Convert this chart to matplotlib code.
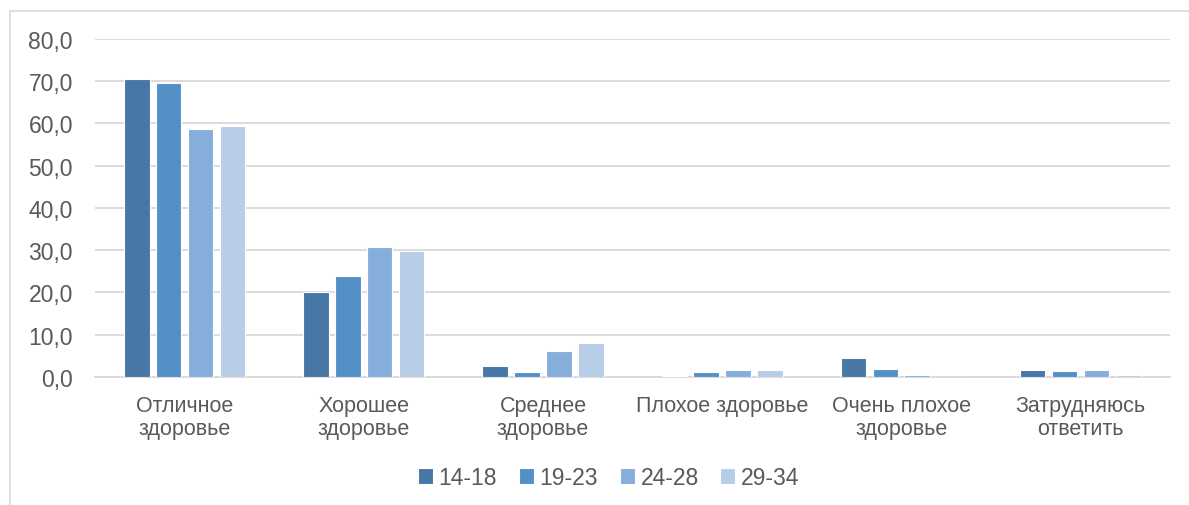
import numpy as np
import matplotlib.pyplot as plt
from matplotlib.patches import Rectangle

plt.rcParams['font.family'] = ['Liberation Sans', 'DejaVu Sans']

categories = ['Отличное\nздоровье', 'Хорошее\nздоровье', 'Среднее\nздоровье',
              'Плохое здоровье', 'Очень плохое\nздоровье', 'Затрудняюсь\nответить']
groups = ['14-18', '19-23', '24-28', '29-34']
v_14_18 = [70.6, 20.2, 2.5, 0.2, 4.5, 1.7]
v_19_23 = [69.6, 23.9, 1.2, 1.2, 1.8, 1.5]
v_24_28 = [58.8, 30.8, 6.1, 1.7, 0.5, 1.6]
v_29_34 = [59.4, 29.8, 8.0, 1.7, 0.0, 0.5]
series = [v_14_18, v_19_23, v_24_28, v_29_34]
colors = ['#4677A6', '#5390C8', '#86AEDC', '#B8CDE8']

fig = plt.figure(figsize=(11.89, 5.06), dpi=100)
ax = fig.add_axes([0.080, 0.253, 0.904, 0.668])

x = np.arange(len(categories))
step = 0.178
width = 0.142
for i, (vals, c, g) in enumerate(zip(series, colors, groups)):
    ax.bar(x + (i - 1.5) * step, vals, width, color=c, label=g,
           edgecolor='white', linewidth=0.8, zorder=3)

ax.set_xlim(-0.5, len(categories) - 0.5)
ax.set_ylim(0, 80)
ax.set_yticks(np.arange(0, 81, 10))
ax.set_yticklabels([f'{t:.1f}'.replace('.', ',') for t in np.arange(0, 81, 10)])
ax.yaxis.grid(True, color='#D9D9D9', linewidth=1.3, zorder=0)
ax.set_xticks(x)
ax.set_xticklabels(categories, linespacing=1.15)
ax.tick_params(axis='y', length=0, labelsize=16.5, colors='#595959', pad=16)
ax.tick_params(axis='x', length=0, labelsize=15.5, colors='#595959', pad=13)
for s in ['top', 'right', 'left']:
    ax.spines[s].set_visible(False)
ax.spines['bottom'].set_color('#D9D9D9')
ax.spines['bottom'].set_linewidth(1.3)

leg = fig.legend(loc='center', bbox_to_anchor=(0.512, 0.054), ncol=4,
                 frameon=False, fontsize=16.5, handlelength=0.65, handleheight=0.65,
                 handletextpad=0.25, columnspacing=0.95)
for t in leg.get_texts():
    t.set_color('#595959')

# outer chart border
fig.patches.append(Rectangle((0.008, -0.1), 1.2, 1.076, transform=fig.transFigure,
                             fill=False, edgecolor='#D9D9D9', linewidth=1.2))

fig.savefig('out.png', dpi=100)
